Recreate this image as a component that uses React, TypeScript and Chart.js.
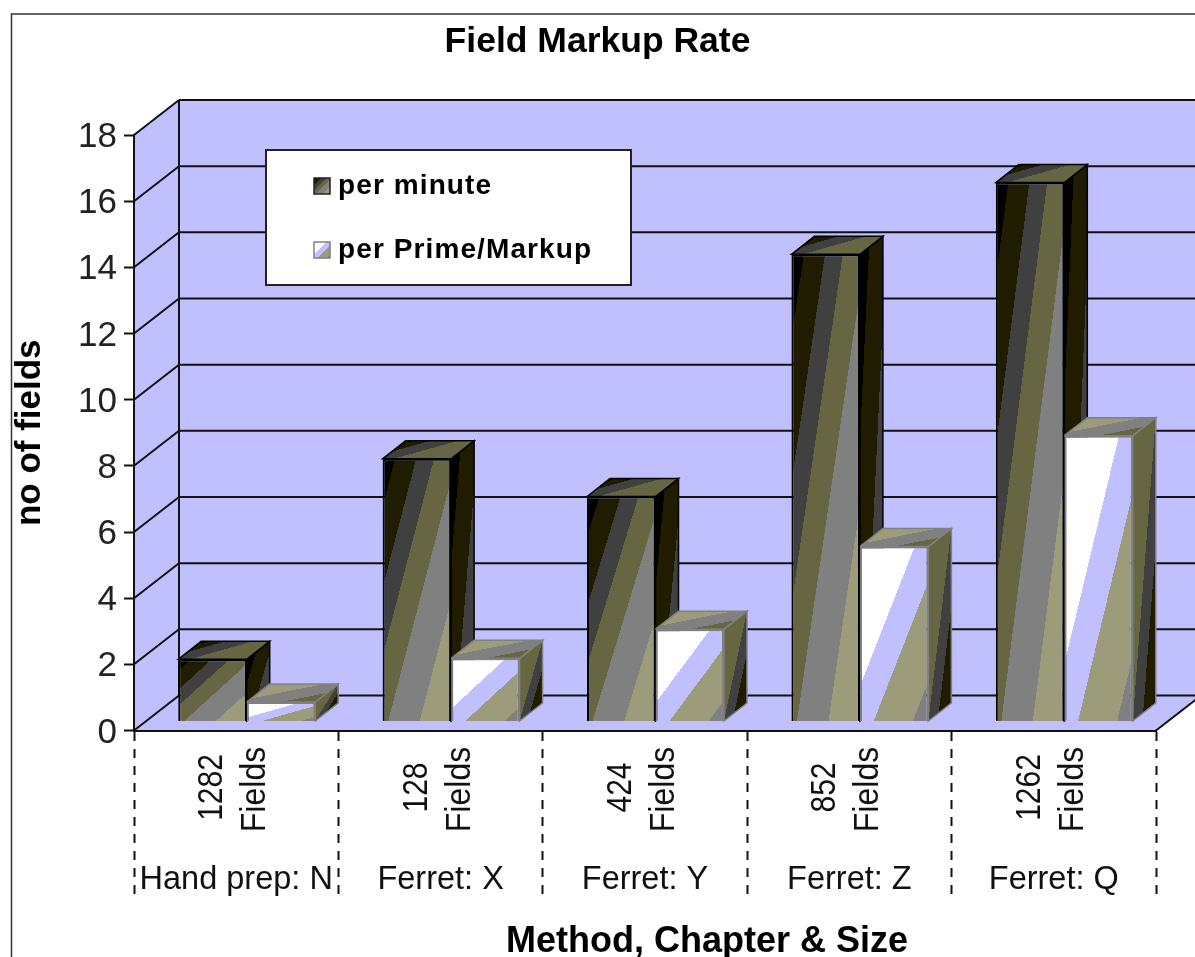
import React, { useEffect, useRef } from "react";
import { Chart, registerables } from "chart.js";

Chart.register(...registerables);

const categories = ["Hand prep: N", "Ferret: X", "Ferret: Y", "Ferret: Z", "Ferret: Q"];
const fieldCounts = ["1282", "128", "424", "852", "1262"];
const perMinute = [1.88, 7.94, 6.8, 14.12, 16.29];
const perPrimeMarkup = [0.59, 1.91, 2.79, 5.29, 8.64];
const seriesNames = ["per minute", "per Prime/Markup"];

const BLACK = "#000000";
const DARK_OLIVE = "#1f1c00";
const DARK_GRAY = "#404040";
const OLIVE = "#666642";
const GRAY = "#808080";
const TAN = "#9c9c7b";
const WHITE = "#ffffff";
const LAVENDER = "#c0c0ff";

type Stop = [number, string];
type Vec = [number, number];

// Colour bands per face: each entry is [band end, colour].
const FRONT_BANDS: Stop[][] = [
  [[0.18, BLACK], [0.49, DARK_OLIVE], [0.75, DARK_GRAY], [1.08, OLIVE], [1.54, GRAY], [2, TAN]],
  [[0.8, WHITE], [1.2, LAVENDER], [1.77, TAN], [2, GRAY]],
];
const SIDE_BANDS: Stop[][] = [
  [[0.4, BLACK], [1.18, DARK_OLIVE], [2, DARK_GRAY]],
  [[1.0, OLIVE], [1.45, DARK_GRAY], [2, DARK_OLIVE]],
];
const TOP_BANDS: Stop[][] = [
  [[0.12, BLACK], [0.45, DARK_OLIVE], [0.95, DARK_GRAY], [2, OLIVE]],
  [[0.4, TAN], [0.75, GRAY], [1, OLIVE]],
];
const EDGE_COLORS = [BLACK, GRAY];

// Projection of the 3D box: wall depth and the offset of the bars on the floor.
const WALL_DX = 45;
const WALL_DY = -35;
const BAR_SHIFT_X = 10.5;
const BAR_SHIFT_Y = -9;
const BAR_DX = 23;
const BAR_DY = -18;
const GROUP_PERCENT = 0.67;

const SANS = "'Liberation Sans', Arial, sans-serif";

// Hard-edged gradient whose isolines satisfy t = aU*u + aV*v over the parallelogram O + u*e1 + v*e2.
function bandGradient(
  ctx: CanvasRenderingContext2D,
  o: Vec,
  e1: Vec,
  e2: Vec,
  aU: number,
  aV: number,
  bands: Stop[]
) {
  const det = e1[0] * e2[1] - e1[1] * e2[0];
  const gx = (aU * e2[1] - aV * e1[1]) / det;
  const gy = (aV * e1[0] - aU * e2[0]) / det;
  const len2 = gx * gx + gy * gy;
  const tMax = bands[bands.length - 1][0];
  const g = ctx.createLinearGradient(
    o[0],
    o[1],
    o[0] + (gx / len2) * tMax,
    o[1] + (gy / len2) * tMax
  );
  let start = 0;
  for (const [end, color] of bands) {
    g.addColorStop(start / tMax, color);
    g.addColorStop(end / tMax, color);
    start = end;
  }
  return g;
}

function fillPoly(
  ctx: CanvasRenderingContext2D,
  pts: Vec[],
  fill: CanvasGradient | string,
  stroke?: string,
  lineWidth = 1.5
) {
  ctx.beginPath();
  pts.forEach((p, i) => (i ? ctx.lineTo(p[0], p[1]) : ctx.moveTo(p[0], p[1])));
  ctx.closePath();
  ctx.fillStyle = fill;
  ctx.fill();
  if (stroke) {
    ctx.strokeStyle = stroke;
    ctx.lineWidth = lineWidth;
    ctx.lineJoin = "miter";
    ctx.stroke();
  }
}

function line(ctx: CanvasRenderingContext2D, x1: number, y1: number, x2: number, y2: number) {
  ctx.beginPath();
  ctx.moveTo(x1, y1);
  ctx.lineTo(x2, y2);
  ctx.stroke();
}

// Scriptable fill for the bar fronts: bands are stretched over each bar's own rectangle.
function frontFill(seriesIndex: number) {
  return (c: any) => {
    const chart = c.chart;
    const x = chart.scales.x;
    const y = chart.scales.y;
    if (!chart.chartArea || c.dataIndex === undefined) return FRONT_BANDS[seriesIndex][0][1];
    const width = ((x.right - x.left) / categories.length) * GROUP_PERCENT * 0.5;
    const center = x.getPixelForValue(c.dataIndex);
    const left = seriesIndex === 0 ? center - width : center;
    const top = y.getPixelForValue(c.raw);
    const height = y.getPixelForValue(0) - top;
    return bandGradient(chart.ctx, [left, top], [width, 0], [0, height], 1, 1, FRONT_BANDS[seriesIndex]);
  };
}

// Vertical text reading bottom to top, stretched across its baseline.
function rotatedText(
  ctx: CanvasRenderingContext2D,
  text: string,
  x: number,
  y: number,
  font: string,
  stretch: number
) {
  ctx.save();
  ctx.font = font;
  ctx.translate(x, y);
  ctx.rotate(-Math.PI / 2);
  ctx.scale(1, stretch);
  ctx.fillText(text, 0, 0);
  ctx.restore();
}

const box3dPlugin = {
  id: "box3d",
  beforeDraw(chart: any) {
    const { ctx, chartArea: a, width, height } = chart;
    const y = chart.scales.y;
    ctx.save();
    ctx.fillStyle = WHITE;
    ctx.fillRect(0, 0, width, height);

    // Chart frame, running off the right and bottom edges
    ctx.strokeStyle = "#333333";
    ctx.lineWidth = 1.5;
    ctx.strokeRect(11.5, 14, width + 20, height + 20);

    // Back wall, side wall and floor
    const bl = a.left + WALL_DX;
    const br = a.right + WALL_DX;
    fillPoly(ctx, [[bl, a.top + WALL_DY], [br, a.top + WALL_DY], [br, a.bottom + WALL_DY], [bl, a.bottom + WALL_DY]], LAVENDER);
    fillPoly(ctx, [[a.left, a.top], [bl, a.top + WALL_DY], [bl, a.bottom + WALL_DY], [a.left, a.bottom]], LAVENDER);
    fillPoly(ctx, [[a.left, a.bottom], [bl, a.bottom + WALL_DY], [br, a.bottom + WALL_DY], [a.right, a.bottom]], LAVENDER);

    ctx.strokeStyle = "#111111";
    ctx.lineWidth = 2;
    for (const tick of y.ticks) {
      const py = y.getPixelForValue(tick.value);
      line(ctx, a.left, py, bl, py + WALL_DY);
      line(ctx, bl, py + WALL_DY, br, py + WALL_DY);
    }
    line(ctx, bl, a.top + WALL_DY, bl, a.bottom + WALL_DY);
    line(ctx, a.right, a.bottom, br, a.bottom + WALL_DY);
    ctx.restore();
  },
  // All side and top faces go down first, left series before right series, so the
  // right bar's roof covers the left bar's side; the fronts are then drawn on top.
  beforeDatasetsDraw(chart: any) {
    const ctx = chart.ctx;
    ctx.save();
    ctx.translate(BAR_SHIFT_X, BAR_SHIFT_Y);
    [0, 1].forEach((s) => {
      const edge = EDGE_COLORS[s];
      for (const bar of chart.getDatasetMeta(s).data) {
        const left = bar.x - bar.width / 2;
        const right = bar.x + bar.width / 2;
        const top = bar.y;
        const base = bar.base;
        const h = base - top;
        const side = bandGradient(ctx, [right, top], [BAR_DX, BAR_DY], [0, h], 1, 1, SIDE_BANDS[s]);
        fillPoly(ctx, [[right, top], [right + BAR_DX, top + BAR_DY], [right + BAR_DX, base + BAR_DY], [right, base]], side, edge);
        // Roof bands run from the back-left corner to the front-right corner
        const roof =
          s === 0
            ? bandGradient(ctx, [left + BAR_DX, top + BAR_DY], [bar.width, 0], [-BAR_DX, -BAR_DY], 1.25, 0.75, TOP_BANDS[s])
            : bandGradient(ctx, [left + BAR_DX, top + BAR_DY], [bar.width, 0], [-BAR_DX, -BAR_DY], 0.5, 0.5, TOP_BANDS[s]);
        fillPoly(ctx, [[left, top], [left + BAR_DX, top + BAR_DY], [right + BAR_DX, top + BAR_DY], [right, top]], roof, edge);
      }
    });
  },
  afterDatasetsDraw(chart: any) {
    chart.ctx.restore();
  },
  afterDraw(chart: any) {
    const { ctx, chartArea: a } = chart;
    const x = chart.scales.x;
    ctx.save();
    ctx.fillStyle = "#111111";

    // Rotated field counts above each category name
    ctx.textAlign = "center";
    ctx.textBaseline = "alphabetic";
    fieldCounts.forEach((count, i) => {
      const cx = x.getPixelForValue(i);
      rotatedText(ctx, count, cx - 14, a.bottom + 57, `30px ${SANS}`, 1.18);
      rotatedText(ctx, "Fields", cx + 29, a.bottom + 59, `32px ${SANS}`, 1.1);
    });

    // Category axis title
    ctx.fillStyle = BLACK;
    ctx.font = `bold 36px ${SANS}`;
    ctx.textBaseline = "middle";
    ctx.fillText("Method, Chapter & Size", 707, 942);

    // Legend box
    ctx.fillStyle = WHITE;
    ctx.strokeStyle = "#222222";
    ctx.lineWidth = 2;
    ctx.fillRect(266, 150, 365, 135);
    ctx.strokeRect(266, 150, 365, 135);
    const rows = [186, 250];
    seriesNames.forEach((name, s) => {
      const ky = rows[s];
      const sym = 16;
      const kx = 314;
      ctx.fillStyle = bandGradient(ctx, [kx, ky - sym / 2], [sym, 0], [0, sym], 1, 1, FRONT_BANDS[s]);
      ctx.fillRect(kx, ky - sym / 2, sym, sym);
      ctx.strokeStyle = s === 0 ? "#222222" : GRAY;
      ctx.lineWidth = 1.5;
      ctx.strokeRect(kx, ky - sym / 2, sym, sym);
      ctx.fillStyle = BLACK;
      ctx.font = `bold 28px ${SANS}`;
      ctx.textAlign = "left";
      (ctx as any).letterSpacing = "1.1px";
      ctx.fillText(name, 338, ky);
      (ctx as any).letterSpacing = "0px";
    });
    ctx.restore();
  },
};

export default function App() {
  const ref = useRef<HTMLCanvasElement>(null);
  useEffect(() => {
    document.body.style.margin = "0";
    const chart = new Chart(ref.current as HTMLCanvasElement, {
      type: "bar",
      data: {
        labels: categories,
        datasets: [
          {
            label: seriesNames[0],
            data: perMinute,
            backgroundColor: frontFill(0),
            borderColor: EDGE_COLORS[0],
            borderWidth: 2,
            categoryPercentage: GROUP_PERCENT,
            barPercentage: 1,
            clip: false,
          },
          {
            label: seriesNames[1],
            data: perPrimeMarkup,
            backgroundColor: frontFill(1),
            borderColor: EDGE_COLORS[1],
            borderWidth: 2,
            categoryPercentage: GROUP_PERCENT,
            barPercentage: 1,
            clip: false,
          },
        ],
      },
      options: {
        animation: false,
        responsive: false,
        devicePixelRatio: 1,
        layout: { padding: 0 },
        plugins: {
          legend: { display: false },
          tooltip: { enabled: false },
          title: {
            display: true,
            text: "Field Markup Rate",
            color: BLACK,
            font: { family: SANS, size: 35.5, weight: "bold" },
            padding: { top: 21, bottom: 71.4 },
          },
        },
        scales: {
          x: {
            type: "category",
            offset: true,
            grid: {
              offset: true,
              drawOnChartArea: false,
              tickLength: 167,
              tickColor: "#111111",
              tickWidth: 2,
              tickBorderDash: [9, 8],
            },
            border: { display: true, color: "#111111", width: 2 },
            ticks: {
              autoSkip: false,
              maxRotation: 0,
              minRotation: 0,
              color: "#111111",
              padding: -37,
              font: { family: SANS, size: 32.5 },
            },
            afterFit: (s: any) => {
              s.height = 226.5;
            },
          },
          y: {
            type: "linear",
            min: 0,
            max: 18,
            grid: { drawOnChartArea: false, tickLength: 10, tickColor: "#111111", tickWidth: 2 },
            border: { display: true, color: "#111111", width: 2 },
            ticks: {
              stepSize: 2,
              color: "#222222",
              padding: 7,
              labelOffset: 2.5,
              font: { family: SANS, size: 35 },
            },
            title: {
              display: true,
              text: "no of fields",
              color: BLACK,
              padding: { top: 9, bottom: 0 },
              font: { family: SANS, size: 35, weight: "bold" },
            },
            afterFit: (s: any) => {
              s.width = 134;
            },
          },
          // Empty axis that reserves the strip right of the plot
          rightGutter: {
            type: "linear",
            position: "right",
            grid: { display: false },
            border: { display: false },
            ticks: { display: false },
            afterFit: (s: any) => {
              s.width = 39;
            },
          },
        },
      } as any,
      plugins: [box3dPlugin],
    });
    return () => chart.destroy();
  }, []);
  return <canvas ref={ref} width={1195} height={957} style={{ display: "block" }} />;
}
